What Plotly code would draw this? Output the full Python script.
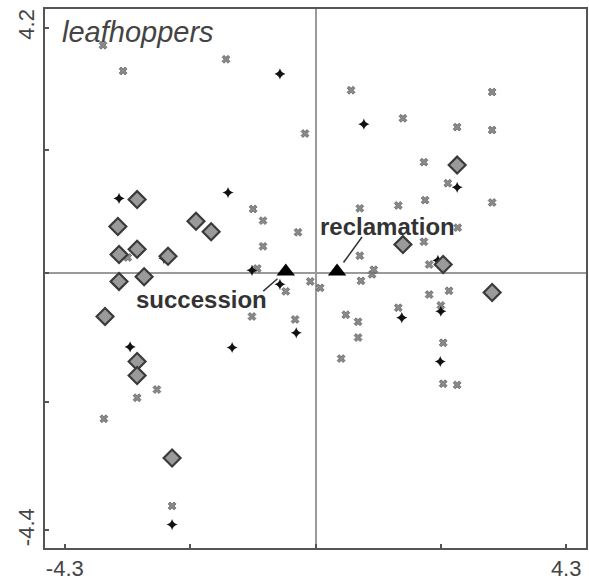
import plotly.graph_objects as go

# Species scores (grey crosses)
cross_x = [-3.645, -3.30, -1.535, -1.07, -0.90, -0.30, -0.90, -3.22, -1.00, -0.51, -0.09, 0.08,
           0.76, 1.42, 0.76, 0.78, 0.97, 1.00, -1.09, -0.35, 0.52, 0.73, 0.73, 0.44, 1.42,
           -0.18, 0.61, 1.50, 3.03, 2.43, 3.03, 1.86, 2.27, 3.03, 1.88, 2.44, 1.86, 1.95,
           1.95, 2.29, 2.15, 2.19, 2.19, 2.43, -2.72, -3.06, -3.63, -2.46]
cross_y = [3.90, 3.46, 3.66, 1.10, 0.90, 0.70, 0.46, 0.27, 0.08, -0.31, -0.14, -0.25,
           1.11, 1.16, 0.30, -0.13, -0.02, 0.06, -0.74, -0.79, -0.71, -0.83, -1.10, -1.46, -0.59,
           2.39, 3.13, 2.65, 3.10, 2.50, 2.45, 1.90, 1.54, 1.21, 1.25, 0.78, 0.54, 0.15,
           -0.365, -0.30, -0.55, -1.19, -1.89, -1.91, -1.99, -2.13, -2.49, -3.98]

# Black dots
dot_x = [-0.61, -1.50, -3.37, -2.60, -1.09, -0.61, -0.33, -1.43, -3.18, -2.46,
         0.83, 2.43, 2.10, 1.48, 2.15, 2.14]
dot_y = [3.41, 1.38, 1.28, 0.25, 0.05, -0.19, -1.02, -1.27, -1.26, -4.30,
         2.55, 1.47, 0.22, -0.76, -0.65, -1.51]

# Diamonds
dia_x = [-3.06, -3.39, -2.05, -1.79, -3.37, -3.06, -2.53, -3.37, -2.94, -3.61,
         -3.06, -3.06, -2.46, 2.43, 1.50, 2.19, 3.03]
dia_y = [1.26, 0.80, 0.89, 0.71, 0.32, 0.41, 0.29, -0.14, -0.06, -0.74,
         -1.51, -1.75, -3.16, 1.85, 0.49, 0.15, -0.33]

# Environmental variables (triangles)
env_names = ["succession", "reclamation"]
env_x = [-0.51, 0.37]
env_y = [0.03, 0.03]

x_ticks = [-4.3, -2.15, 0, 2.15, 4.3]
x_ticktext = ["-4.3", "", "", "", "4.3"]
y_ticks = [-4.4, -2.2, 0, 2.1, 4.2]
y_ticktext = ["-4.4", "", "", "", "4.2"]

FONT = "Liberation Sans, Arial, sans-serif"

fig = go.Figure()
fig.add_trace(go.Scatter(x=cross_x, y=cross_y, mode="markers",
                         marker=dict(symbol="x", size=7, color="#8a8a8a",
                                     line=dict(color="#444", width=0.6)),
                         hoverinfo="x+y"))
fig.add_trace(go.Scatter(x=dot_x, y=dot_y, mode="markers",
                         marker=dict(symbol="star-diamond", size=8, color="#111",
                                     line=dict(width=0)),
                         hoverinfo="x+y"))
fig.add_trace(go.Scatter(x=dia_x, y=dia_y, mode="markers",
                         marker=dict(symbol="diamond", size=13, color="#9a9a9a",
                                     line=dict(color="#3a3a3a", width=2.2)),
                         hoverinfo="x+y"))
fig.add_trace(go.Scatter(x=env_x, y=env_y, mode="markers",
                         marker=dict(symbol="triangle-up", size=16, color="#000"),
                         text=env_names, hoverinfo="text"))

# leader lines from labels to triangles
fig.add_annotation(x=env_x[0], y=env_y[0], ax=-24, ay=21, text="", showarrow=True,
                   arrowhead=0, arrowwidth=1.5, arrowcolor="#333", standoff=11)
fig.add_annotation(x=env_x[1], y=env_y[1], ax=26, ay=-36, text="", showarrow=True,
                   arrowhead=0, arrowwidth=1.5, arrowcolor="#333", standoff=11)
fig.add_annotation(x=-1.95, y=-0.45, text="<b>succession</b>", showarrow=False,
                   font=dict(family=FONT, size=24, color="#333"), xanchor="center", yanchor="middle")
fig.add_annotation(x=1.24, y=0.80, text="<b>reclamation</b>", showarrow=False,
                   font=dict(family=FONT, size=24, color="#333"), xanchor="center", yanchor="middle")
fig.add_annotation(xref="paper", yref="paper", x=0.027, y=0.958, text="<i>leafhoppers</i>",
                   showarrow=False, xanchor="left", yanchor="middle",
                   font=dict(family=FONT, size=29, color="#444"))

axis_common = dict(showgrid=False, zeroline=True, zerolinecolor="#9a9a9a", zerolinewidth=1.5,
                   showline=True, mirror=True, linecolor="#555", linewidth=2,
                   ticks="inside", ticklen=4, tickwidth=1.5, tickcolor="#555",
                   automargin=False,
                   tickfont=dict(family=FONT, size=22, color="#444"))

fig.update_xaxes(range=[-4.64, 4.64], tickvals=x_ticks, ticktext=x_ticktext, **axis_common)
fig.update_yaxes(range=[-4.70, 4.52], tickvals=y_ticks, ticktext=y_ticktext, tickangle=-90,
                 **axis_common)

fig.update_layout(width=589, height=582, showlegend=False,
                  margin=dict(l=45, r=3, t=9, b=34),
                  plot_bgcolor="white", paper_bgcolor="white",
                  font=dict(family=FONT))

fig.write_html("out.html", config={"displayModeBar": False},
               post_script="document.body.style.margin='0';document.body.style.overflow='hidden';")
